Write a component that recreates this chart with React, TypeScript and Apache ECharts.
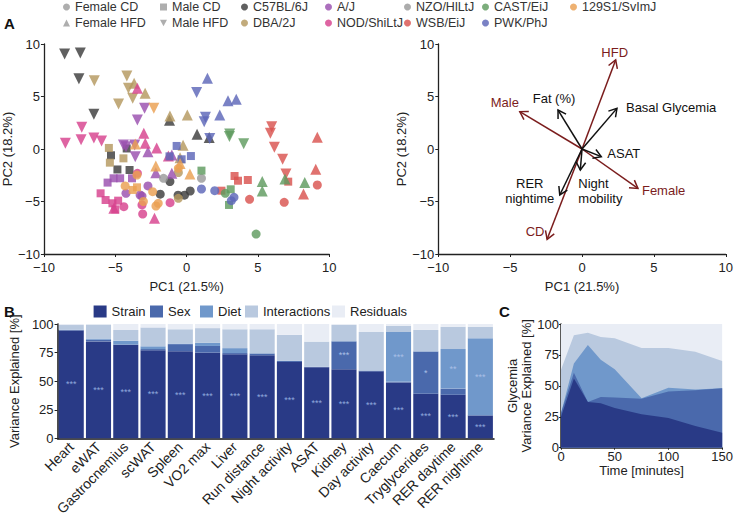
import React, { useEffect, useRef } from 'react';
import * as echarts from 'echarts';

const FONT = '"Liberation Sans", Arial, Helvetica, sans-serif';

// ---------- Panel A (left): PCA scores, [PC1, PC2, group] group: 0 Female CD, 1 Male CD, 2 Female HFD, 3 Male HFD
const groupNames = ['Female CD', 'Male CD', 'Female HFD', 'Male HFD'];

const c57Points = [[-8.55, 9.05, 3], [-7.45, 9.15, 3], [-7.55, 6.7, 3], [-6.5, 3.3, 3], [-1.2, 2.75, 2], [0.73, 1.4, 2], [1.58, 1.1, 2], [-5.3, -0.6, 1], [-4.85, -1.95, 1], [-4.0, -2.0, 1], [-4.2, 0.05, 1], [-1.17, -3.1, 0], [-1.85, -4.3, 0], [-0.6, -4.4, 0], [-0.15, -4.4, 0], [0.25, -4.0, 0]];
const dbaPoints = [[-6.47, 6.5, 3], [-4.19, 6.95, 3], [-4.08, 5.78, 3], [-3.78, 4.83, 3], [-4.77, 4.29, 3], [-3.68, 6.26, 2], [-2.91, 5.3, 2], [-1.17, 3.14, 2], [0.05, 3.24, 2], [-0.25, 0.35, 2], [-0.46, -0.83, 2], [-5.45, 0.1, 1], [-5.38, -1.3, 1], [-4.43, -0.89, 1], [-0.58, -2.25, 0], [-0.58, -4.7, 0]];
const ajPoints = [[-2.95, 3.87, 3], [-3.45, 2.76, 3], [-3.6, -0.73, 3], [-4.25, 0.22, 3], [-3.64, 0.38, 3], [-4.43, 0.38, 3], [-2.71, -0.25, 2], [-2.16, -2.25, 2], [-1.04, -2.32, 2], [-1.04, -0.57, 2], [-5.54, -3.2, 1], [-5.12, -2.79, 1], [-4.66, -2.79, 1], [-3.83, -2.79, 1], [-4.25, -4.22, 0], [-2.71, -3.52, 0], [-3.26, -4.38, 0], [-3.13, -4.48, 0]];
const nodPoints = [[-8.5, 0.55, 3], [-7.35, 2.06, 3], [-7.4, 0.88, 3], [-6.5, 1.05, 3], [-5.96, 0.76, 3], [-3.45, 5.78, 2], [-3.0, 1.5, 2], [-2.9, 0.54, 2], [-2.1, 0.1, 2], [-1.28, -0.67, 2], [-2.25, -6.6, 2], [-5.1, -5.65, 2], [-6.03, -4.22, 1], [-5.68, -4.86, 1], [-5.2, -5.17, 1], [-4.8, -4.92, 1], [-5.0, -5.75, 1], [-4.4, -5.49, 0], [-3.13, -5.33, 0], [-3.08, -6.19, 0], [-1.16, -5.11, 0], [-3.45, -2.32, 0]];
const nzoPoints = [[1.04, -2.79, 0], [-1.62, -2.79, 0]];
const wsbPoints = [[5.96, 2.13, 3], [5.87, 1.49, 3], [6.15, 0.16, 3], [6.73, -0.98, 3], [6.96, -2.38, 3], [9.16, 1.11, 2], [9.05, -1.94, 2], [8.19, -4.29, 2], [3.36, -2.57, 1], [3.6, -3.02, 1], [4.29, -2.95, 1], [2.44, -3.97, 1], [7.12, -3.11, 1], [4.41, -4.79, 0], [6.84, -5.08, 0], [9.16, -3.43, 0]];
const castPoints = [[3.02, 1.43, 3], [3.0, 1.2, 3], [4.0, 0.5, 3], [5.3, -3.1, 2], [5.3, -4.0, 2], [6.89, -2.85, 2], [8.28, -3.2, 2], [1.04, -2.06, 1], [3.09, -3.84, 1], [2.97, -5.33, 1], [2.71, -4.22, 0], [4.87, -8.1, 0]];
const pwkPoints = [[1.46, 6.73, 2], [2.9, 4.6, 2], [3.48, 4.73, 2], [2.32, 3.24, 2], [0.7, 5.37, 3], [1.32, 3.02, 3], [1.23, 2.6, 3], [1.62, 1.0, 3], [-0.7, 0.29, 1], [-0.35, -0.98, 1], [0.3, -0.67, 1], [-1.2, -0.7, 1], [1.04, -3.81, 0], [1.97, -3.97, 0], [3.32, -4.6, 0], [3.13, -4.92, 0]];
const s129Points = [[-2.3, 3.87, 3], [-2.16, -1.62, 2], [-0.46, -1.37, 2], [0.23, -2.38, 2], [-3.6, 0.48, 2], [-3.48, -3.65, 1], [-3.78, -3.9, 1], [-4.31, -3.52, 0], [-3.48, -2.48, 0], [-3.03, -5.0, 0], [-1.99, -5.17, 0], [-2.15, -5.43, 0], [-2.38, -4.06, 0], [-0.58, -1.84, 0]];

const strainNames = ['C57BL/6J', 'DBA/2J', 'A/J', 'NOD/ShiLtJ', 'NZO/HlLtJ', 'WSB/EiJ', 'CAST/EiJ', 'PWK/PhJ', '129S1/SvImJ'];
const strainPoints = [c57Points, dbaPoints, ajPoints, nodPoints, nzoPoints, wsbPoints, castPoints, pwkPoints, s129Points];
const strainColors = ['#3d3d3d', '#b4985f', '#9a4fae', '#d7428e', '#9a9a9a', '#d9534f', '#5f9b5f', '#5d66b8', '#eaa052'];

// ---------- Panel A (right): loadings
const arrowNames = ['HFD', 'CD', 'Male', 'Female', 'Fat (%)', 'Basal Glycemia', 'ASAT', 'Night\nmobility', 'RER\nnightime'];
const arrowPC1 = [2.34, -2.43, -4.33, 3.89, -1.67, 2.43, 1.34, -0.12, -1.55];
const arrowPC2 = [8.48, -8.6, 3.56, -3.75, 3.71, 3.87, -0.73, -2.0, -4.38];
const arrowKind = [0, 0, 0, 0, 1, 1, 1, 1, 1]; // 0 design factor, 1 phenotype
// label placement relative to arrow tip (px): dx, dy, align
const arrowLabelLayout: [number, number, string][] = [[-1, -7, 'center'], [-12, -8, 'center'], [-15, -9, 'center'], [4, 2, 'left'], [-4, -12, 'center'], [9, -1, 'left'], [6, -3, 'left'], [-2, 21, 'left'], [-30, -4, 'center']];

// ---------- Panel B
const phenotypes = ['Heart', 'eWAT', 'Gastrocnemius', 'scWAT', 'Spleen', 'VO2 max', 'Liver', 'Run distance', 'Night activity', 'ASAT', 'Kidney', 'Day activity', 'Caecum', 'Tryglycerides', 'RER daytime', 'RER nightime'];
const strainVar = [94.3, 84.8, 81.6, 77, 76.2, 74.9, 73.5, 72.7, 66.8, 62.2, 60.5, 58.6, 48.9, 38.9, 38.1, 20];
const sexVar = [0.5, 1.4, 0.5, 1.1, 6.2, 5.9, 1.1, 1.6, 1.0, 0.3, 24.3, 0.6, 0.5, 37, 5.4, 0.3];
const dietVar = [0.3, 1.1, 3.3, 2.4, 0.5, 2.7, 4.3, 0.2, 0.2, 0.2, 0.2, 0.2, 43.6, 0.2, 34.6, 67.2];
const interVar = [4, 12.2, 9.4, 16.5, 12.5, 12.9, 16.5, 20.9, 22.5, 21.9, 14.2, 33.6, 5.3, 18.7, 19.5, 10.1];
const residVar = [0.9, 0.5, 5.2, 3, 4.6, 3.6, 4.6, 4.6, 9.5, 15.4, 0.8, 7, 1.7, 5.2, 2.4, 2.4];
const strainStars = ['***', '***', '***', '***', '***', '***', '***', '***', '***', '***', '***', '***', '***', '***', '***', '***'];
const sexStars = ['', '', '', '', '', '', '', '', '', '', '***', '', '', '*', '', ''];
const dietStars = ['', '', '', '', '', '', '', '', '', '', '', '', '***', '', '**', '***'];

// ---------- Panel C
const timeMin = [0, 12, 25, 37, 50, 75, 100, 125, 150];
const glyStrain = [25, 56, 37, 36, 32, 27, 24, 17.5, 12];
const glySex = [3, 4.5, 0, 5, 8.5, 12.5, 21.5, 29, 36];
const glyDiet = [0, 7.5, 46, 30, 23, 0.5, 3, 0.5, 0];
const glyInter = [35, 23, 10, 18.5, 25, 40.5, 32, 30.5, 22];
const glyResid = [37, 9, 7, 10.5, 11.5, 19.5, 19.5, 22.5, 30];

const factorNames = ['Strain', 'Sex', 'Diet', 'Interactions', 'Residuals'];
const factorColors = ['#293a86', '#4a69ac', '#7098cb', '#b9c9df', '#e9edf5'];

const minus = (v: number) => String(v).replace('-', '\u2212');
const txt = (size: number) => ({ fontFamily: FONT, fontSize: size, color: '#222' });
const axLine = { show: true, onZero: false, lineStyle: { color: '#222', width: 1.3 } };

function buildOption() {
  const SYM = ['circle', 'rect', 'triangle', 'triangle'];
  const SIZE = [9, 8, 11, 11];

  const series: any[] = [];
  const groupColor = '#9a9a9a';
  groupNames.forEach((n) => series.push({ name: n, type: 'scatter', xAxisIndex: 0, yAxisIndex: 0, data: [], itemStyle: { color: groupColor } }));
  strainNames.forEach((n, i) => {
    series.push({
      name: n, type: 'scatter', xAxisIndex: 0, yAxisIndex: 0,
      itemStyle: { color: strainColors[i], opacity: 0.82 },
      data: strainPoints[i].map(([x, y, g]) => ({ value: [x, y], symbol: SYM[g], symbolSize: SIZE[g], symbolRotate: g === 3 ? 180 : 0 })),
    });
  });

  series.push({
    type: 'custom', xAxisIndex: 1, yAxisIndex: 1, clip: false,
    encode: { x: 0, y: 1 },
    data: arrowNames.map((_, i) => [arrowPC1[i], arrowPC2[i], arrowKind[i]]),
    renderItem: (params: any, api: any) => {
      const i = params.dataIndex;
      const p0 = api.coord([0, 0]);
      const p1 = api.coord([api.value(0), api.value(1)]);
      const color = api.value(2) === 0 ? '#7b1d1d' : '#111111';
      const ang = Math.atan2(p1[1] - p0[1], p1[0] - p0[0]);
      const L = 9, a = 0.55;
      const h1 = [p1[0] - L * Math.cos(ang - a), p1[1] - L * Math.sin(ang - a)];
      const h2 = [p1[0] - L * Math.cos(ang + a), p1[1] - L * Math.sin(ang + a)];
      const [dx, dy, al] = arrowLabelLayout[i];
      return {
        type: 'group',
        children: [
          { type: 'line', shape: { x1: p0[0], y1: p0[1], x2: p1[0], y2: p1[1] }, style: { stroke: color, lineWidth: 1.5 } },
          { type: 'polyline', shape: { points: [h1, p1, h2] }, style: { stroke: color, fill: 'none', lineWidth: 1.5 } },
          { type: 'text', x: p1[0] + dx, y: p1[1] + dy, style: { text: arrowNames[i], fill: color, fontSize: 13, fontFamily: FONT, align: al, verticalAlign: 'middle', lineHeight: 15 } },
        ],
      };
    },
  });

  const barVals = [strainVar, sexVar, dietVar, interVar, residVar];
  const barStars = [strainStars, sexStars, dietStars, null, null];
  factorNames.forEach((n, k) => {
    const stars = barStars[k];
    series.push({
      name: n, type: 'bar', stack: 'b', xAxisIndex: 2, yAxisIndex: 2, barCategoryGap: '8%',
      itemStyle: { color: factorColors[k] },
      data: barVals[k],
      label: stars ? { show: true, position: 'inside', color: k === 0 ? '#8ea7dc' : '#a9bfe6', fontSize: 9, fontFamily: FONT, formatter: (p: any) => stars[p.dataIndex] } : { show: false },
    });
  });

  // Panel C: cumulative tops computed from the component values, drawn back to front
  const glyVals = [glyStrain, glySex, glyDiet, glyInter, glyResid];
  const cumTops = glyVals.map((_, k) => timeMin.map((_, j) => {
    let s = 0;
    for (let m = 0; m <= k; m++) s += glyVals[m][j];
    return Math.min(100, s);
  }));
  for (let k = factorNames.length - 1; k >= 0; k--) {
    series.push({
      name: factorNames[k], type: 'line', xAxisIndex: 3, yAxisIndex: 3, symbol: 'none', showSymbol: false,
      lineStyle: { width: 0 }, itemStyle: { color: factorColors[k] },
      areaStyle: { color: factorColors[k], opacity: 1, origin: 'start' },
      data: timeMin.map((t, j) => [t, cumTops[k][j]]),
    });
  }

  const legendBase = { orient: 'vertical', top: 0, padding: 0, itemGap: 2, itemWidth: 7, itemHeight: 7, selectedMode: false, textStyle: { fontFamily: FONT, fontSize: 12.5, color: '#333', lineHeight: 14 } };
  const downTri = 'path://M0,0L10,0L5,9Z';
  const legendCols: [number, any[]][] = [
    [63, [{ name: 'Female CD', icon: 'circle' }, { name: 'Female HFD', icon: 'triangle' }]],
    [160, [{ name: 'Male CD', icon: 'rect' }, { name: 'Male HFD', icon: downTri }]],
    [241, [{ name: 'C57BL/6J', icon: 'circle' }, { name: 'DBA/2J', icon: 'circle' }]],
    [325, [{ name: 'A/J', icon: 'circle' }, { name: 'NOD/ShiLtJ', icon: 'circle' }]],
    [404, [{ name: 'NZO/HlLtJ', icon: 'circle' }, { name: 'WSB/EiJ', icon: 'circle' }]],
    [482, [{ name: 'CAST/EiJ', icon: 'circle' }, { name: 'PWK/PhJ', icon: 'circle' }]],
    [570, [{ name: '129S1/SvImJ', icon: 'circle' }]],
  ];
  const legends: any[] = legendCols.map(([left, data]) => ({ ...legendBase, left, data }));
  const bLegLeft = [93.6, 150, 200, 245, 332];
  factorNames.forEach((n, k) => legends.push({
    orient: 'horizontal', left: bLegLeft[k], top: 305, padding: 0, itemWidth: 13, itemHeight: 12, selectedMode: false,
    data: [{ name: n, icon: 'rect', itemStyle: { color: factorColors[k] } }], textStyle: { fontFamily: FONT, fontSize: 13, color: '#222' },
  }));

  const pcX = (gi: number) => ({
    gridIndex: gi, type: 'value', min: -10, max: 10, interval: 5, name: 'PC1 (21.5%)', nameLocation: 'middle', nameGap: 26,
    nameTextStyle: txt(13), axisLine: axLine, axisTick: { show: true, length: 3, lineStyle: { color: '#222' } },
    axisLabel: { ...txt(13), margin: 7, formatter: minus }, splitLine: { show: false },
  });
  const pcY = (gi: number, gap: number) => ({
    gridIndex: gi, type: 'value', min: -10, max: 10, interval: 5, name: 'PC2 (18.2%)', nameLocation: 'middle', nameGap: gap,
    nameTextStyle: txt(13), axisLine: axLine, axisTick: { show: true, length: 3, lineStyle: { color: '#222' } },
    axisLabel: { ...txt(13), margin: 4, formatter: minus }, splitLine: { show: false },
  });

  return {
    animation: false,
    backgroundColor: '#ffffff',
    textStyle: { fontFamily: FONT },
    legend: legends,
    grid: [
      { left: 41.7, top: 44, width: 287.6, height: 210 },
      { left: 438.3, top: 44, width: 287.7, height: 210 },
      { left: 45, top: 324, width: 449, height: 124.5 },
      { left: 561, top: 324, width: 166.5, height: 123.7 },
    ],
    xAxis: [
      pcX(0),
      pcX(1),
      {
        gridIndex: 2, type: 'category', data: phenotypes,
        axisLine: { show: true, lineStyle: { color: '#111', width: 1.5 } }, axisTick: { show: false },
        axisLabel: { ...txt(14), rotate: 45, interval: 0, margin: 6 },
      },
      {
        gridIndex: 3, type: 'value', min: 0, max: 150, interval: 50, name: 'Time [minutes]', nameLocation: 'middle', nameGap: 14,
        nameTextStyle: txt(13), axisLine: { show: true, onZero: false, lineStyle: { color: '#222', width: 1.5 } },
        axisTick: { show: true, length: 2, lineStyle: { color: '#222' } }, axisLabel: { ...txt(13), margin: 2 }, splitLine: { show: false },
      },
    ],
    yAxis: [
      pcY(0, 26),
      pcY(1, 27),
      {
        gridIndex: 2, type: 'value', min: 0, max: 100, interval: 25, name: 'Variance Explained [%]', nameLocation: 'middle', nameGap: 26,
        nameTextStyle: txt(13), axisLine: { show: true, lineStyle: { color: '#111', width: 1.5 } },
        axisTick: { show: true, length: 3, lineStyle: { color: '#222' } }, axisLabel: { ...txt(13), margin: 4 }, splitLine: { show: false },
      },
      {
        gridIndex: 3, type: 'value', min: 0, max: 100, interval: 25, name: 'Glycemia\nVariance Explained [%]', nameLocation: 'middle', nameGap: 24,
        nameTextStyle: { ...txt(13), lineHeight: 14 }, axisLine: { show: true, onZero: false, lineStyle: { color: '#222', width: 1.5 } },
        axisTick: { show: true, length: 2, lineStyle: { color: '#222' } }, axisLabel: { ...txt(13), margin: 2 }, splitLine: { show: false },
      },
    ],
    graphic: [
      { type: 'text', left: 4, top: 16, style: { text: 'A', fontFamily: FONT, fontSize: 15, fontWeight: 'bold', fill: '#111' } },
      { type: 'text', left: 4, top: 304, style: { text: 'B', fontFamily: FONT, fontSize: 15, fontWeight: 'bold', fill: '#111' } },
      { type: 'text', left: 499, top: 304, style: { text: 'C', fontFamily: FONT, fontSize: 15, fontWeight: 'bold', fill: '#111' } },
    ],
    series,
  };
}

export default function App() {
  const ref = useRef<HTMLDivElement>(null);
  useEffect(() => {
    const chart = echarts.init(ref.current!, null, { renderer: 'svg' });
    chart.setOption(buildOption() as any);
    return () => chart.dispose();
  }, []);
  return <div ref={ref} style={{ position: 'fixed', left: 0, top: 0, width: 736, height: 518, background: '#fff' }} />;
}
